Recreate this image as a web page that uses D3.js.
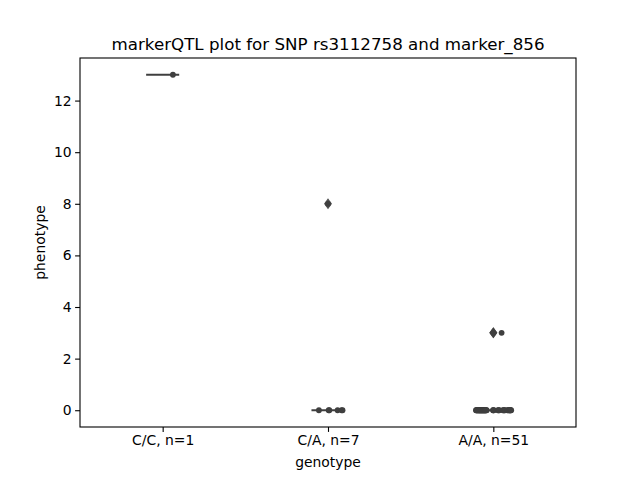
<!DOCTYPE html>
<html>
<head>
<meta charset="utf-8">
<script src="https://cdn.jsdelivr.net/npm/d3@7/dist/d3.min.js"></script>
<style>
html,body{margin:0;padding:0;background:#fff;}
text{font-family:"DejaVu Sans",sans-serif;fill:#000;}
</style>
</head>
<body>
<svg id="chart" width="640" height="480"></svg>
<script>
// ---- data ----
const categories = ["C/C, n=1", "C/A, n=7", "A/A, n=51"];
const valuesCC = [13];
const jitterCC = [0.062];
const valuesCA = [0, 0, 0, 0, 0, 0, 8];
const jitterCA = [-0.055, 0.004, 0.008, 0.058, 0.082, 0.088, 0.0];
const valuesAA = [
  0,0,0,0,0,0,0,0,0,0,
  0,0,0,0,0,0,0,0,0,0,
  0,0,0,0,0,0,0,0,0,0,
  0,0,0,0,0,0,0,0,0,0,
  0,0,0,0,0,0,0,0,0,
  3,3];
const jitterAA = [
  -0.105,-0.103,-0.1,-0.098,-0.095,-0.093,-0.09,-0.088,-0.086,-0.084,
  -0.082,-0.08,-0.078,-0.076,-0.074,-0.072,-0.07,-0.068,-0.066,-0.064,
  -0.062,-0.06,-0.058,-0.056,-0.054,-0.052,-0.05,-0.048,-0.046,-0.044,
  -0.04,-0.002,0.0,0.003,0.028,0.032,0.036,0.058,0.062,0.066,
  0.07,0.085,0.09,0.094,0.098,0.1,0.102,0.105,0.108,
  0.0,0.05];
const yTicks = [0, 2, 4, 6, 8, 10, 12];
const titleText = "markerQTL plot for SNP rs3112758 and marker_856";
const xLabel = "genotype";
const yLabel = "phenotype";

const groups = [
  {cat: categories[0], values: valuesCC, jitter: jitterCC},
  {cat: categories[1], values: valuesCA, jitter: jitterCA},
  {cat: categories[2], values: valuesAA, jitter: jitterAA}
];

// ---- layout ----
const W = 640, H = 480;
const m = {left: 80, right: 64, top: 58, bottom: 53};
const iw = W - m.left - m.right, ih = H - m.top - m.bottom;

const svg = d3.select("#chart");
const g = svg.append("g").attr("transform", `translate(${m.left},${m.top})`);

const x = d3.scaleLinear().domain([-0.5, categories.length - 0.5]).range([0, iw]);
const allVals = groups.flatMap(d => d.values);
const ymin = d3.min(allVals), ymax = d3.max(allVals);
const pad = (ymax - ymin) * 0.05;
const y = d3.scaleLinear().domain([ymin - pad, ymax + pad]).range([ih, 0]);

const boxColor = "#3f3f3f";
const ptColor = "#3f3f3f";
const boxW = 0.2;

// ---- boxes ----
groups.forEach((grp, i) => {
  const s = grp.values.slice().sort(d3.ascending);
  const q1 = d3.quantile(s, 0.25), med = d3.quantile(s, 0.5), q3 = d3.quantile(s, 0.75);
  const iqr = q3 - q1;
  const loFence = q1 - 1.5 * iqr, hiFence = q3 + 1.5 * iqr;
  const inside = s.filter(v => v >= loFence && v <= hiFence);
  const wLo = d3.min(inside), wHi = d3.max(inside);
  const fliers = s.filter(v => v < loFence || v > hiFence);
  const cx = x(i), x0 = x(i - boxW / 2), x1 = x(i + boxW / 2);
  const bg = g.append("g");
  bg.append("line").attr("x1", cx).attr("x2", cx).attr("y1", y(wLo)).attr("y2", y(q1))
    .attr("stroke", boxColor).attr("stroke-width", 2);
  bg.append("line").attr("x1", cx).attr("x2", cx).attr("y1", y(q3)).attr("y2", y(wHi))
    .attr("stroke", boxColor).attr("stroke-width", 2);
  bg.append("rect").attr("x", x0).attr("width", x1 - x0)
    .attr("y", y(q3)).attr("height", Math.max(0, y(q1) - y(q3)))
    .attr("fill", "#ffffff").attr("stroke", boxColor).attr("stroke-width", 2);
  bg.append("line").attr("x1", x0).attr("x2", x1).attr("y1", y(med)).attr("y2", y(med))
    .attr("stroke", boxColor).attr("stroke-width", 2);
  fliers.forEach(v => {
    const fx = cx, fy = y(v);
    bg.append("path")
      .attr("d", `M${fx},${fy - 5.5}L${fx + 4},${fy}L${fx},${fy + 5.5}L${fx - 4},${fy}Z`)
      .attr("fill", boxColor).attr("opacity", 0.9);
  });
});

// ---- strip points ----
groups.forEach((grp, i) => {
  g.append("g").selectAll("circle").data(grp.values).join("circle")
    .attr("cx", (d, k) => x(i + grp.jitter[k]))
    .attr("cy", d => y(d))
    .attr("r", 2.9)
    .attr("fill", ptColor);
});

// ---- axes ----
const xAxis = d3.axisBottom(x).tickValues(d3.range(categories.length))
  .tickFormat(i => categories[i]).tickSize(4.9).tickPadding(3.5);
const yAxis = d3.axisLeft(y).tickValues(yTicks).tickSize(4.9).tickPadding(3.5);

const gx = g.append("g").attr("transform", `translate(0,${ih})`).call(xAxis);
const gy = g.append("g").call(yAxis);
[gx, gy].forEach(a => {
  a.select(".domain").remove();
  a.selectAll(".tick line").attr("stroke", "#000").attr("stroke-width", 1.1);
  a.selectAll(".tick text").attr("font-size", "13.9px").attr("fill", "#000")
    .style("font-family", "'DejaVu Sans', sans-serif");
});

g.append("rect").attr("x", 0).attr("y", 0).attr("width", iw).attr("height", ih)
  .attr("fill", "none").attr("stroke", "#000").attr("stroke-width", 1.1);

svg.append("text").attr("x", m.left + iw / 2).attr("y", 50)
  .attr("text-anchor", "middle").attr("font-size", "16.7px").text(titleText);
svg.append("text").attr("x", m.left + iw / 2).attr("y", 467)
  .attr("text-anchor", "middle").attr("font-size", "13.9px").text(xLabel);
svg.append("text").attr("transform", `translate(45,${m.top + ih / 2}) rotate(-90)`)
  .attr("text-anchor", "middle").attr("font-size", "13.9px").text(yLabel);
</script>
</body>
</html>
